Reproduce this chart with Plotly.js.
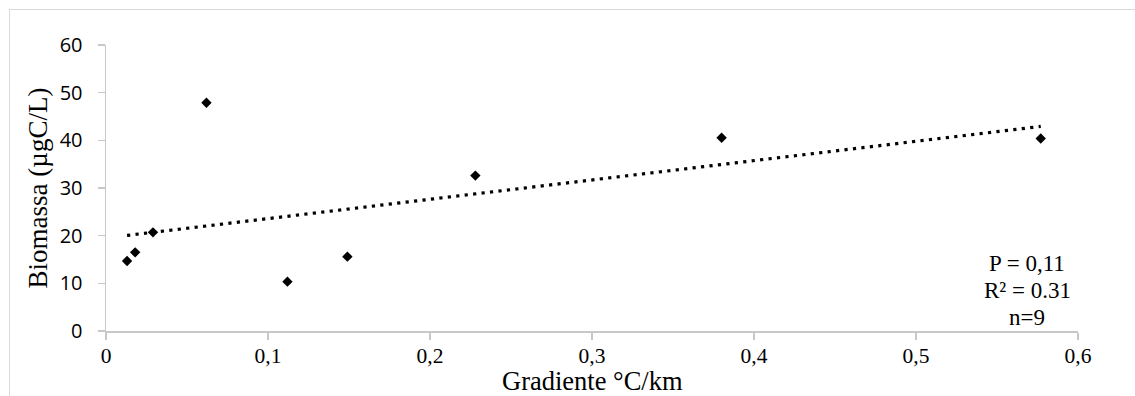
<!DOCTYPE html>
<html>
<head>
<meta charset="utf-8">
<script src="https://cdn.plot.ly/plotly-3.0.1.min.js"></script>
<style>
  html, body { margin: 0; padding: 0; background: #fff; }
  #wrap { position: relative; width: 1135px; height: 396px; overflow: hidden; }
  #chart { width: 1135px; height: 396px; }
  #frame { position: absolute; left: 9px; top: 9px; width: 1200px; height: 500px;
           border-left: 1.5px solid #d9d9d9; border-top: 1.5px solid #d9d9d9; pointer-events: none; }
</style>
</head>
<body>
<div id="wrap">
  <div id="chart"></div>
  <div id="frame"></div>
</div>
<script>
// Data
const gradiente = [0.013, 0.018, 0.029, 0.062, 0.112, 0.149, 0.228, 0.380, 0.577];
const biomassa  = [14.7, 16.5, 20.7, 47.9, 10.35, 15.6, 32.6, 40.55, 40.4];
const statsLines = ['P = 0,11', 'R² = 0.31', 'n=9'];
const xTickVals = [0, 0.1, 0.2, 0.3, 0.4, 0.5, 0.6];
const xTickText = ['0', '0,1', '0,2', '0,3', '0,4', '0,5', '0,6'];
const yTickVals = [0, 10, 20, 30, 40, 50, 60];
const xTitle = 'Gradiente °C/km';
const yTitle = 'Biomassa (µgC/L)';

// Linear least-squares trendline from the data
const n = gradiente.length;
const mx = gradiente.reduce((a, b) => a + b, 0) / n;
const my = biomassa.reduce((a, b) => a + b, 0) / n;
let sxy = 0, sxx = 0;
for (let i = 0; i < n; i++) {
  sxy += (gradiente[i] - mx) * (biomassa[i] - my);
  sxx += (gradiente[i] - mx) * (gradiente[i] - mx);
}
const slope = sxy / sxx;
const intercept = my - slope * mx;
const xMin = Math.min(...gradiente), xMax = Math.max(...gradiente);
const trendX = [xMin, xMax];
const trendY = trendX.map(x => intercept + slope * x);

const serif = 'Liberation Serif, Times New Roman, serif';

const traces = [
  {
    x: trendX, y: trendY, type: 'scatter', mode: 'lines',
    line: { color: '#000', width: 3.2, dash: '3.2px,5.3px' },
    hoverinfo: 'skip', showlegend: false
  },
  {
    x: gradiente, y: biomassa, type: 'scatter', mode: 'markers',
    marker: { symbol: 'diamond', size: 8, color: '#000' },
    showlegend: false
  }
];

const shifts = [27, 0, -27];
const annotations = statsLines.map((t, i) => ({
  x: 0.5687, y: 8.4, xref: 'x', yref: 'y',
  text: t, showarrow: false, xanchor: 'center', yanchor: 'middle',
  yshift: shifts[i],
  font: { family: serif, size: 23, color: '#000' }
}));
// x-axis title placed as paper annotation for precise vertical placement
annotations.push({
  x: 0.5, y: -0.234, xref: 'paper', yref: 'paper',
  text: xTitle, showarrow: false, xanchor: 'center', yanchor: 'bottom',
  font: { family: serif, size: 26.5, color: '#000' }
});

const layout = {
  width: 1135, height: 396,
  margin: { l: 106, r: 57, t: 45, b: 65 },
  paper_bgcolor: '#fff', plot_bgcolor: '#fff',
  showlegend: false,
  xaxis: {
    range: [0, 0.6], tickvals: xTickVals, ticktext: xTickText,
    showgrid: false, zeroline: false,
    showline: true, linecolor: '#c8c8c8', linewidth: 1.5,
    ticks: 'outside', ticklen: 7, tickcolor: '#c8c8c8', tickwidth: 1.5,
    tickfont: { family: serif, size: 21.5, color: '#000' },
    ticklabelstandoff: -2,
    fixedrange: true
  },
  yaxis: {
    range: [0, 60], tickvals: yTickVals,
    showgrid: false, zeroline: false,
    showline: true, linecolor: '#c8c8c8', linewidth: 1.5,
    ticks: 'outside', ticklen: 7, tickcolor: '#c8c8c8', tickwidth: 1.5,
    tickfont: { family: 'Open Sans, Liberation Sans, sans-serif', size: 20, color: '#000' },
    ticklabelstandoff: 11,
    title: { text: yTitle, font: { family: serif, size: 27, color: '#000' }, standoff: 4 },
    fixedrange: true
  },
  annotations: annotations
};

Plotly.newPlot('chart', traces, layout, { displayModeBar: false, staticPlot: true });
</script>
</body>
</html>
